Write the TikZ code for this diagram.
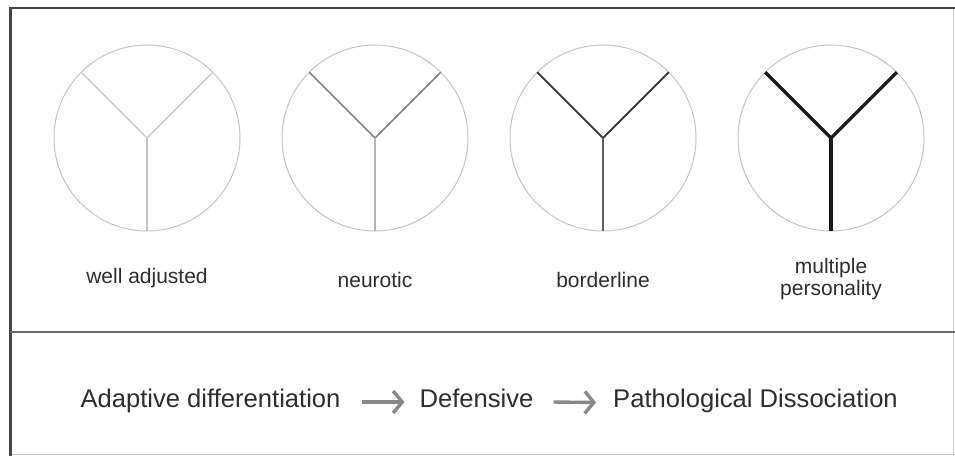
\documentclass[tikz,border=0pt]{standalone}
\usepackage{fontspec}
\setmainfont{Liberation Sans}
\usetikzlibrary{arrows.meta}
\definecolor{txt}{HTML}{2E2E2E}
\definecolor{frameDark}{HTML}{464646}
\definecolor{frameLight}{HTML}{C8C8C8}
\definecolor{divider}{HTML}{6A6A6A}
\definecolor{ring}{HTML}{C6C6C6}
\definecolor{arrowgray}{HTML}{888888}
\tikzset{
  ringstyle/.style={draw=ring, line width=1pt},
  toplabel/.style={inner sep=0pt, text=txt, font=\fontsize{21}{22}\selectfont},
  bottomlabel/.style={inner sep=0pt, text=txt, font=\fontsize{25.6}{28}\selectfont, anchor=base},
  arr/.style={draw=arrowgray, line width=3.4pt, -{Straight Barb[length=9pt,width=22pt]}},
}
\begin{document}
\begin{tikzpicture}[x=1pt,y=-1pt]
\useasboundingbox (0,0) rectangle (955,456);
\fill[white] (0,0) rectangle (955,456);
% frame
\draw[frameLight, line width=1pt] (953,7) -- (953,454.5);
\draw[frameLight, line width=1.2pt] (10,454.5) -- (955,454.5);
\draw[frameDark, line width=2pt] (10.5,7.5) -- (955,7.5);
\draw[frameDark, line width=2.2pt] (10.5,6.5) -- (10.5,456);
\draw[divider, line width=2pt] (10,331.5) -- (955,331.5);
% circles
\foreach \cx/\name in {147/c1,375/c2,603/c3,831/c4}{
  \coordinate (\name) at (\cx,138);
  \draw[ringstyle] (\name) circle[radius=93pt];
}
% spokes
\draw[draw=ring, line width=1.2pt] (c1) -- ++(-65.8,-65.8);
\draw[draw=ring, line width=1.2pt] (c1) -- ++(65.8,-65.8);
\draw[draw=ring, line width=1.2pt] (c1) -- ++(0,93);
\draw[draw={rgb,255:red,132;green,132;blue,132}, line width=1.5pt] (c2) -- ++(-65.8,-65.8);
\draw[draw={rgb,255:red,132;green,132;blue,132}, line width=1.5pt] (c2) -- ++(65.8,-65.8);
\draw[draw={rgb,255:red,182;green,182;blue,182}, line width=1.5pt] (c2) -- ++(0,93);
\draw[draw={rgb,255:red,64;green,64;blue,64}, line width=2pt] (c3) -- ++(-65.8,-65.8);
\draw[draw={rgb,255:red,64;green,64;blue,64}, line width=2pt] (c3) -- ++(65.8,-65.8);
\draw[draw={rgb,255:red,96;green,96;blue,96}, line width=2pt] (c3) -- ++(0,93);
\draw[draw={rgb,255:red,26;green,26;blue,26}, line width=3.2pt, line join=miter] (c4) ++(-65.8,-65.8) -- (c4) -- ++(65.8,-65.8);
\draw[draw={rgb,255:red,26;green,26;blue,26}, line width=3.2pt] (c4) -- ++(0,93);
% labels
\node[toplabel, anchor=base] (l1) at (147,283) {well adjusted};
\node[toplabel, anchor=base] (l2) at (375,287) {neurotic};
\node[toplabel, anchor=base] (l3) at (603,287) {borderline};
\node[toplabel, align=center] (l4) at (831,279.5) {multiple\\personality};
% bottom row
\node[bottomlabel] (ad) at (210.5,407) {Adaptive differentiation};
\node[bottomlabel] (de) at (476.5,407) {Defensive};
\node[bottomlabel] (pd) at (755.5,407.5) {Pathological Dissociation};
\draw[arr] ([shift={(21,-5)}]ad.base east) -- ([shift={(-15,-5)}]de.base west);
\draw[arr] ([shift={(20,-5)}]de.base east) -- ([shift={(-17,-5)}]pd.base west);
\end{tikzpicture}
\end{document}
